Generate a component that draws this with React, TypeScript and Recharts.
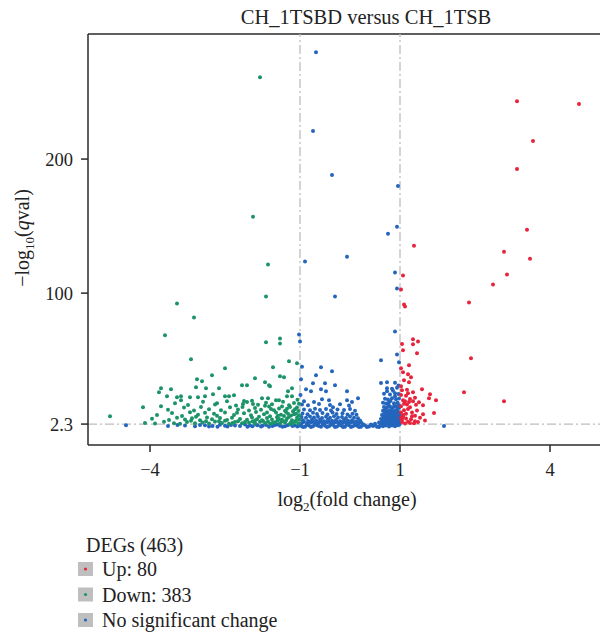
import React from 'react';
import { ScatterChart, Scatter, XAxis, YAxis, ReferenceLine } from 'recharts';

const FONT = '"Liberation Serif", "Times New Roman", serif';
const RED = '#e8243c';
const GREEN = '#1b9468';
const BLUE = '#2466bd';
const REF = '#bdbdbd';
const AXIS = '#2a2a2a';

const title = 'CH_1TSBD versus CH_1TSB';
const xTicks = [-4, -1, 1, 4];
const yTicks = [2.3, 100, 200];
const xDomain = [-5.24, 5.0];
const yDomain = [-13.3, 293.3];
const foldThresholds = [-1, 1];
const qThreshold = 2.3;

const legendTitle = 'DEGs (463)';
const legendLabels = ['Up: 80', 'Down: 383', 'No significant change'];

const upPoints: [number, number][] = [
  [3.34, 243.2], [4.58, 241.0], [3.66, 213.4], [3.34, 192.6], [3.54, 147.3], [1.28, 135.4], [3.08, 130.9], [3.6, 125.7],
  [3.14, 113.8], [1.06, 113.1], [2.86, 106.4], [1.02, 102.7], [2.38, 93.0], [1.08, 91.5], [1.1, 90.0], [2.42, 51.4],
  [3.08, 19.4], [2.28, 26.1],
  [1.26, 65.5], [1.36, 64.0], [1.26, 61.8], [1.06, 57.3], [1.34, 55.1], [1.18, 46.2], [1.06, 40.9], [1.16, 39.5],
  [1.22, 37.2], [1.18, 33.5], [1.44, 28.3], [1.26, 26.1], [1.16, 25.3], [1.6, 24.6], [1.58, 21.6], [1.72, 20.1],
  [1.06, 20.1], [1.1, 19.4], [1.26, 19.4], [1.18, 18.7], [1.46, 16.4], [1.02, 15.7], [1.2, 14.9], [1.08, 12.7],
  [1.68, 10.5], [1.46, 9.7], [1.24, 8.2], [1.06, 7.5], [1.3, 4.5], [1.36, 3.8], [1.04, 3.8],
  [1.02, 30.5], [1.04, 27.5], [1.12, 23.5], [1.3, 22.0], [1.14, 17.0], [1.02, 11.0], [1.12, 10.0], [1.34, 12.5],
  [1.22, 6.0], [1.04, 5.5], [1.16, 4.0], [1.28, 3.0], [1.1, 2.8], [1.4, 7.0], [1.5, 5.0], [1.32, 16.8],
  [1.08, 35.0], [1.02, 44.0], [1.04, 62.0], [1.14, 28.0], [1.2, 21.0], [1.08, 17.5], [1.16, 13.5], [1.02, 24.0],
  [1.24, 11.0], [1.12, 6.5], [1.06, 9.0], [1.38, 18.5], [1.3, 8.5], [1.2, 3.2], [1.02, 7.0],
];

const downPoints: [number, number][] = [
  [-1.8, 261.0], [-1.94, 156.9], [-1.64, 121.3], [-1.68, 97.5], [-3.46, 92.3], [-3.12, 81.9], [-3.7, 68.5],
  [-1.68, 63.3], [-1.4, 66.2], [-1.4, 62.5], [-3.18, 50.6], [-1.22, 49.1], [-1.06, 47.6], [-1.54, 44.7],
  [-2.5, 43.9], [-2.76, 38.7], [-1.9, 36.5], [-1.4, 38.0], [-1.32, 37.2], [-3.06, 35.8], [-2.96, 34.3],
  [-1.7, 33.5], [-2.16, 31.3], [-2.06, 31.3], [-1.62, 31.3], [-1.6, 30.5], [-3.08, 29.8], [-2.88, 29.1],
  [-2.62, 29.1], [-3.78, 29.1], [-3.58, 28.3], [-3.82, 26.1], [-1.16, 29.1], [-1.24, 26.8], [-2.9, 23.1],
  [-2.74, 24.6], [-3.66, 23.1], [-3.46, 22.4], [-3.38, 23.1], [-3.38, 20.1], [-3.2, 22.4], [-3.04, 22.4],
  [-2.5, 23.1], [-2.42, 23.1], [-2.32, 23.9], [-1.76, 21.6], [-1.64, 21.6], [-1.42, 20.1], [-1.26, 23.1],
  [-1.16, 23.1], [-4.14, 14.9], [-3.78, 15.7], [-2.66, 17.9], [-2.14, 17.2], [-2.06, 18.7], [-1.94, 17.2],
  [-4.8, 8.2],
  [-4.1, 3.2], [-3.9, 2.8], [-3.72, 4.1], [-3.52, 3.0], [-3.4, 2.6], [-3.26, 3.9], [-3.1, 2.9], [-2.95, 3.5],
  [-2.82, 2.7], [-2.7, 4.2], [-2.56, 3.1], [-2.42, 2.6], [-2.3, 3.8], [-2.16, 2.9], [-2.02, 3.4], [-1.9, 2.7],
  [-1.8, 4.0], [-1.7, 3.1], [-1.6, 2.6], [-1.5, 3.7], [-1.4, 2.9], [-1.3, 3.5], [-1.2, 2.6], [-1.1, 4.1],
  [-1.03, 3.0], [-1.15, 2.5], [-1.36, 4.4], [-1.64, 4.3], [-2.24, 4.4], [-2.62, 4.5],
  [-3.96, 6.2], [-3.62, 5.4], [-3.46, 7.1], [-3.3, 5.8], [-3.16, 6.6], [-3.0, 5.2], [-2.86, 7.3], [-2.76, 5.9],
  [-2.6, 6.8], [-2.46, 5.3], [-2.36, 7.0], [-2.2, 6.1], [-2.06, 5.5], [-1.96, 7.2], [-1.86, 6.0], [-1.76, 5.1],
  [-1.66, 6.9], [-1.56, 5.7], [-1.46, 7.4], [-1.36, 5.6], [-1.26, 6.5], [-1.16, 5.2], [-1.06, 7.0], [-1.01, 5.8],
  [-1.22, 7.6], [-1.42, 6.1], [-1.9, 5.0],
  [-3.86, 9.0], [-3.56, 10.6], [-3.36, 8.4], [-3.2, 11.2], [-3.04, 9.3], [-2.9, 10.8], [-2.66, 8.6], [-2.5, 11.0],
  [-2.32, 9.1], [-2.12, 10.4], [-1.98, 8.8], [-1.88, 11.3], [-1.72, 9.6], [-1.6, 8.2], [-1.48, 10.9], [-1.38, 9.2],
  [-1.28, 11.4], [-1.18, 8.7], [-1.08, 10.1], [-1.02, 8.9], [-1.14, 11.9], [-1.32, 8.3],
  [-3.64, 13.0], [-3.32, 14.6], [-3.12, 12.4], [-2.98, 15.1], [-2.82, 13.3], [-2.58, 12.7], [-2.4, 14.8],
  [-2.24, 13.1], [-2.02, 12.5], [-1.9, 14.3], [-1.78, 13.0], [-1.62, 15.4], [-1.52, 12.6], [-1.42, 14.0],
  [-1.3, 12.2], [-1.2, 15.0], [-1.1, 13.4], [-1.03, 12.1], [-1.36, 15.5],
  [-3.5, 17.8], [-3.24, 16.5], [-2.94, 18.9], [-2.7, 16.9], [-2.46, 19.4], [-2.28, 16.2], [-1.96, 19.8],
  [-1.84, 16.8], [-1.68, 18.3], [-1.56, 17.1], [-1.34, 19.0], [-1.22, 16.4], [-1.12, 18.0], [-1.05, 20.5],
  [-1.48, 20.0], [-2.12, 19.5],
  [-1.08, 4.8], [-1.18, 3.6], [-1.28, 5.0], [-1.45, 4.9], [-1.55, 3.2], [-1.74, 4.6], [-1.95, 4.2], [-2.1, 3.9],
  [-2.35, 3.1], [-2.5, 4.8], [-2.88, 4.4], [-3.18, 4.7], [-1.12, 9.6], [-1.24, 10.0], [-1.44, 8.6], [-1.66, 11.0],
  [-1.82, 7.8], [-2.26, 10.8], [-2.72, 10.0], [-3.08, 7.8], [-1.06, 14.6], [-1.26, 13.8], [-1.58, 13.6],
  [-2.15, 15.0], [-1.7, 16.0], [-1.02, 17.4],
];

const nsPoints: [number, number][] = [
  [-0.68, 279.6], [-0.74, 220.9], [-0.36, 188.2], [0.96, 180.0], [0.94, 149.5], [0.76, 144.3], [-0.06, 127.2],
  [-0.9, 123.5], [0.9, 115.3], [-0.3, 97.5], [0.94, 103.4], [0.9, 71.4], [-1.02, 69.2], [-1.0, 64.0], [0.94, 54.3],
  [0.62, 49.9], [0.98, 48.4], [-0.58, 44.7], [-0.36, 41.7], [-0.68, 38.7], [-0.98, 35.8], [-0.74, 32.8],
  [-0.5, 32.8], [-0.3, 31.3], [-0.88, 28.3], [-0.78, 26.8], [-0.58, 28.3], [-0.48, 26.8], [-0.06, 26.8],
  [0.16, 21.6], [-0.06, 20.1], [-0.92, 19.4], [-0.56, 20.9], [-0.42, 20.1], [-0.72, 18.7], [0.04, 18.7],
  [-0.34, 14.9], [1.88, 0.8], [-4.48, 1.5],
  [-3.64, 0.8], [-3.3, 1.2], [-3.1, 0.6], [-2.9, 1.4], [-2.75, 0.9], [-2.6, 1.8], [-2.45, 0.5], [-2.3, 1.3],
  [-2.2, 0.9], [-2.1, 1.9], [-1.95, 0.7], [-1.85, 1.5], [-1.75, 1.0], [-1.62, 0.4], [-1.5, 1.7], [-1.4, 1.1],
  [-1.3, 0.6], [-1.2, 1.9], [-1.1, 1.2], [-1.05, 0.5], [-3.45, 1.7], [-2.0, 1.2], [-1.55, 0.9], [-1.25, 1.4],
  [-2.5, 1.0], [-3.0, 1.6], [-2.65, 0.4], [-1.88, 2.0], [-1.15, 0.8], [-1.35, 0.3], [-1.45, 1.9], [-1.68, 1.6],
  [-1.78, 0.5], [-2.05, 0.4], [-2.38, 1.7], [-2.82, 0.5], [-1.02, 1.8],
  [-0.98, 1.0], [-0.9, 0.4], [-0.82, 1.3], [-0.74, 0.6], [-0.66, 1.5], [-0.58, 0.3], [-0.5, 1.1], [-0.42, 0.7],
  [-0.34, 1.6], [-0.26, 0.5], [-0.18, 1.2], [-0.1, 0.3], [-0.02, 1.4], [0.06, 0.6], [0.14, 1.0], [0.22, 0.4],
  [0.3, 1.3], [0.38, 0.5], [0.46, 0.9], [0.54, 0.3],
  [-0.94, 0.2], [-0.86, 1.8], [-0.78, 0.1], [-0.7, 1.9], [-0.62, 0.8], [-0.54, 1.9], [-0.46, 0.2], [-0.38, 1.9],
  [-0.3, 0.2], [-0.22, 1.8], [-0.14, 0.1], [-0.06, 1.9], [0.02, 0.2], [0.1, 1.7], [0.18, 0.1], [0.26, 1.8],
  [0.34, 0.1], [0.42, 1.6], [0.5, 1.5], [0.58, 0.2],
  [-0.96, 3.1], [-0.86, 2.6], [-0.78, 3.6], [-0.7, 2.8], [-0.62, 3.3], [-0.54, 2.4], [-0.46, 3.7], [-0.38, 2.9],
  [-0.3, 3.4], [-0.22, 2.5], [-0.14, 3.2], [-0.06, 2.7], [0.02, 3.5], [0.1, 2.4], [0.18, 3.0], [0.26, 2.2],
  [0.42, 2.0], [0.5, 2.6],
  [-0.92, 4.0], [-0.82, 3.9], [-0.74, 4.1], [-0.66, 3.8], [-0.58, 4.2], [-0.5, 3.9], [-0.42, 4.0], [-0.34, 4.1],
  [-0.26, 3.8], [-0.18, 4.0], [-0.1, 4.1], [-0.02, 3.9], [0.06, 4.0], [0.14, 3.7], [0.22, 3.6],
  [-0.94, 5.2], [-0.84, 4.6], [-0.76, 5.8], [-0.68, 4.9], [-0.6, 5.5], [-0.52, 4.4], [-0.44, 5.9], [-0.36, 4.7],
  [-0.28, 5.3], [-0.2, 4.5], [-0.12, 5.6], [-0.04, 4.8], [0.04, 5.1], [0.12, 4.3], [0.2, 4.9],
  [-0.97, 7.6], [-0.88, 7.1], [-0.8, 8.0], [-0.72, 7.3], [-0.64, 7.8], [-0.56, 6.9], [-0.48, 7.7], [-0.4, 7.0],
  [-0.32, 8.1], [-0.24, 7.2], [-0.16, 7.5], [-0.08, 6.8], [0.0, 7.9], [0.08, 7.0], [0.16, 6.6],
  [-0.95, 10.2], [-0.85, 9.6], [-0.74, 10.8], [-0.66, 9.8], [-0.55, 10.5], [-0.45, 9.4], [-0.35, 10.9],
  [-0.27, 9.9], [-0.15, 10.4], [-0.05, 9.5], [0.05, 10.1], [0.13, 9.3],
  [-0.92, 13.1], [-0.8, 12.6], [-0.7, 13.8], [-0.6, 12.9], [-0.48, 13.5], [-0.38, 12.4], [-0.25, 13.2],
  [-0.12, 12.8], [0.0, 13.6], [0.1, 12.3],
  [-0.96, 17.0], [-0.84, 16.4], [-0.62, 17.3], [-0.4, 16.6], [-0.2, 17.1], [-0.02, 16.2], [-0.99, 24.0],
  [-0.96, 45.0],
  [0.6, 1.1], [0.66, 0.6], [0.72, 1.3], [0.78, 0.5], [0.84, 1.2], [0.9, 0.7], [0.96, 1.4],
  [0.63, 2.2], [0.69, 1.9], [0.75, 2.4], [0.81, 2.0], [0.87, 2.3], [0.93, 1.8], [0.99, 2.1],
  [0.58, 3.4], [0.64, 3.9], [0.7, 3.2], [0.76, 3.7], [0.82, 3.0], [0.88, 3.8], [0.94, 3.3], [0.99, 3.6],
  [0.65, 4.8], [0.71, 4.5], [0.77, 5.0], [0.83, 4.6], [0.89, 4.9], [0.95, 4.4],
  [0.62, 6.1], [0.68, 5.6], [0.74, 6.4], [0.8, 5.8], [0.86, 6.3], [0.92, 5.5], [0.98, 6.0],
  [0.67, 7.6], [0.73, 7.2], [0.79, 7.8], [0.85, 7.4], [0.91, 7.7], [0.97, 7.3],
  [0.64, 9.1], [0.7, 8.6], [0.76, 9.4], [0.82, 8.8], [0.88, 9.3], [0.94, 8.5], [0.99, 9.0],
  [0.69, 10.6], [0.75, 10.3], [0.81, 10.8], [0.87, 10.4], [0.93, 10.7], [0.98, 10.2],
  [0.66, 12.2], [0.72, 11.6], [0.78, 12.5], [0.84, 11.8], [0.9, 12.3], [0.96, 11.5],
  [0.68, 15.1], [0.74, 14.6], [0.8, 15.4], [0.86, 14.8], [0.92, 15.2], [0.98, 14.5],
  [0.71, 13.6], [0.83, 13.4], [0.95, 13.7], [0.77, 16.6], [0.89, 16.8], [0.97, 16.5],
  [0.66, 18.3], [0.72, 17.6], [0.78, 18.5], [0.88, 17.9], [0.95, 18.2],
  [0.7, 21.2], [0.76, 20.6], [0.84, 21.5], [0.92, 20.8], [0.98, 21.3], [0.81, 19.6], [0.9, 23.0],
  [0.68, 25.0], [0.8, 24.4], [0.9, 25.3], [0.97, 24.7], [0.74, 26.8], [0.86, 27.1],
  [0.74, 29.1], [0.84, 28.6], [0.94, 29.4], [0.62, 33.0], [0.74, 33.5], [0.9, 33.2], [0.97, 31.0],
];

const toData = (arr: [number, number][]) => arr.map(([x, y]) => ({ x, y }));
const upData = toData(upPoints);
const downData = toData(downPoints);
const nsData = toData(nsPoints);
const legendColors = [RED, GREEN, BLUE];

const makeDot = (color: string) => (props: any) => (
  <circle cx={props.cx} cy={props.cy} r={2} fill={color} />
);

const fmtTick = (v: number) => String(v).replace('-', '\u2212');

const XLabel = () => (
  <text x={347} y={506} textAnchor="middle" fontSize={20} fontFamily={FONT} fill="#222">
    log<tspan fontSize={13} dy={5}>2</tspan>
    <tspan dy={-5}>(fold change)</tspan>
  </text>
);

const YLabel = () => (
  <text transform="translate(29,238) rotate(-90)" textAnchor="middle" fontSize={20} fontFamily={FONT} fill="#222">
    {'\u2212log'}<tspan fontSize={13} dy={5}>10</tspan>
    <tspan dy={-5}>(</tspan>
    <tspan fontStyle="italic">q</tspan>
    <tspan>val)</tspan>
  </text>
);

export default function App() {
  return (
    <div style={{ position: 'absolute', left: 0, top: 0, width: 600, height: 634, background: '#fff' }}>
      <ScatterChart width={600} height={634} margin={{ top: 34, right: 0, bottom: 114, left: 0 }}>
        <XAxis
          type="number"
          dataKey="x"
          domain={xDomain}
          ticks={xTicks}
          allowDataOverflow
          tickFormatter={fmtTick}
          tick={{ fontSize: 18.5, fill: '#222', fontFamily: FONT }}
          tickSize={7}
          tickMargin={11}
          tickLine={{ stroke: AXIS, strokeWidth: 1.5 }}
          axisLine={{ stroke: AXIS, strokeWidth: 1.5 }}
          height={75}
          label={<XLabel />}
        />
        <YAxis
          type="number"
          dataKey="y"
          domain={yDomain}
          ticks={yTicks}
          allowDataOverflow
          tick={{ fontSize: 18.5, fill: '#222', fontFamily: FONT }}
          tickSize={7}
          tickMargin={8}
          tickLine={{ stroke: AXIS, strokeWidth: 1.5 }}
          axisLine={{ stroke: AXIS, strokeWidth: 1.5 }}
          width={88}
          label={<YLabel />}
        />
        <ReferenceLine y={yDomain[1]} stroke={AXIS} strokeWidth={1.5} />
        {foldThresholds.map((t) => (
          <ReferenceLine key={t} x={t} stroke={REF} strokeWidth={1.3} strokeDasharray="9 3 2 3" />
        ))}
        <ReferenceLine y={qThreshold} stroke={REF} strokeWidth={1.3} strokeDasharray="9 3 2 3" />
        <Scatter data={nsData} isAnimationActive={false} shape={makeDot(BLUE)} />
        <Scatter data={downData} isAnimationActive={false} shape={makeDot(GREEN)} />
        <Scatter data={upData} isAnimationActive={false} shape={makeDot(RED)} />
      </ScatterChart>
      <svg width={600} height={634} style={{ position: 'absolute', left: 0, top: 0, pointerEvents: 'none' }}>
        <text x={366} y={24} textAnchor="middle" fontSize={20.5} fontFamily={FONT} fill="#222">{title}</text>
        <text x={86} y={552} fontSize={20} fontFamily={FONT} fill="#222">{legendTitle}</text>
        {legendLabels.map((lab, i) => {
          const base = 576 + i * 25.5;
          return (
            <g key={lab}>
              <rect x={78} y={base - 14} width={15} height={14} fill="#bfbfbf" />
              <circle cx={85.5} cy={base - 7} r={1.6} fill={legendColors[i]} />
              <text x={102} y={base} fontSize={20} fontFamily={FONT} fill="#222">{lab}</text>
            </g>
          );
        })}
      </svg>
    </div>
  );
}
